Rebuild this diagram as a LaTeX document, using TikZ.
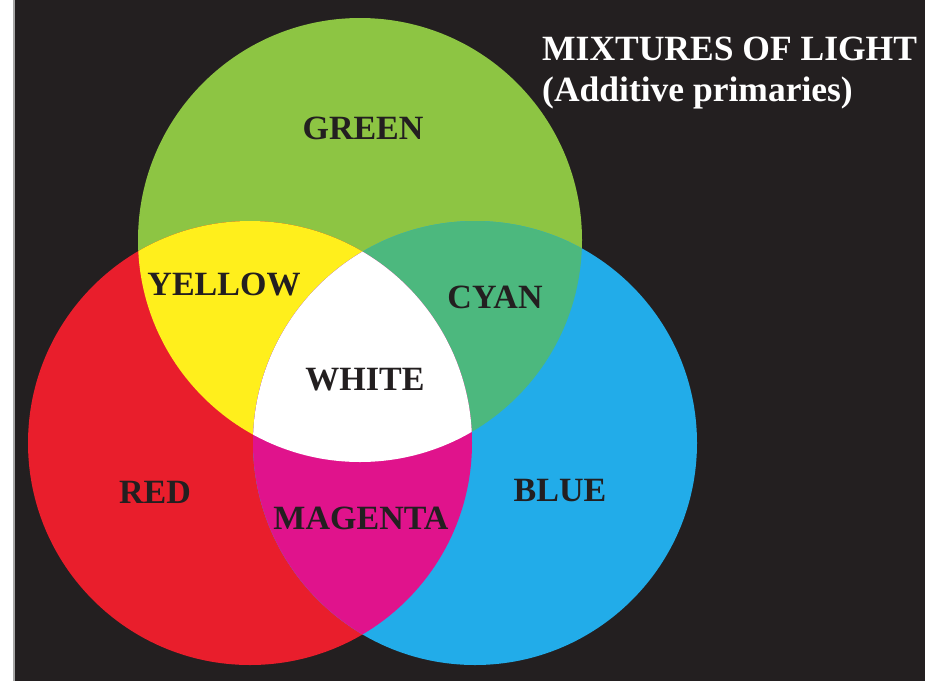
\documentclass[tikz,border=0pt]{standalone}
\usepackage{fontspec}
\setmainfont{Liberation Serif}
\definecolor{bgblack}{HTML}{231F20}
\definecolor{lgreen}{HTML}{8DC543}
\definecolor{lred}{HTML}{E91E2C}
\definecolor{lblue}{HTML}{22ACE9}
\definecolor{lyellow}{HTML}{FFEF1C}
\definecolor{lcyan}{HTML}{4CB87E}
\definecolor{lmagenta}{HTML}{E0138C}
\tikzset{
  mix/.style={font=\fontsize{34}{40}\selectfont\bfseries, text=bgblack, inner sep=0pt},
  title/.style={font=\fontsize{35.5}{40}\selectfont\bfseries, text=white, inner sep=0pt, anchor=west}
}
\begin{document}
\begin{tikzpicture}[x=1pt, y=-1pt]
  \useasboundingbox (0,0) rectangle (925,681);
  \fill[white] (0,0) rectangle (925,681);
  \fill[bgblack] (13,0) rectangle (925,681);
  \draw[gray!70, line width=1.5pt] (14,0) -- (14,681);
  % the three lights
  \fill[lgreen] (360,240) circle (222);
  \fill[lred] (250,443) circle (222);
  \fill[lblue] (475,443) circle (222);
  % pairwise mixtures
  \begin{scope}
    \clip (360,240) circle (222);
    \fill[lyellow] (250,443) circle (222);
    \fill[lcyan] (475,443) circle (222);
  \end{scope}
  \begin{scope}
    \clip (250,443) circle (222);
    \fill[lmagenta] (475,443) circle (222);
  \end{scope}
  % all three
  \begin{scope}
    \clip (360,240) circle (222);
    \clip (250,443) circle (222);
    \fill[white] (475,443) circle (222);
  \end{scope}
  \node[mix] (green) at (363,128) {GREEN};
  \node[mix] (yellow) at (224,284) {YELLOW};
  \node[mix] (cyan) at (495,297) {CYAN};
  \node[mix] (white) at (365,380) {WHITE};
  \node[mix] (red) at (155,492) {RED};
  \node[mix] (magenta) at (361,518) {MAGENTA};
  \node[mix] (blue) at (560,491) {BLUE};
  \node[title] (head) at (542,49) {MIXTURES OF LIGHT};
  \node[title] (sub) at (542,93) {(Additive primaries)};
\end{tikzpicture}
\end{document}
